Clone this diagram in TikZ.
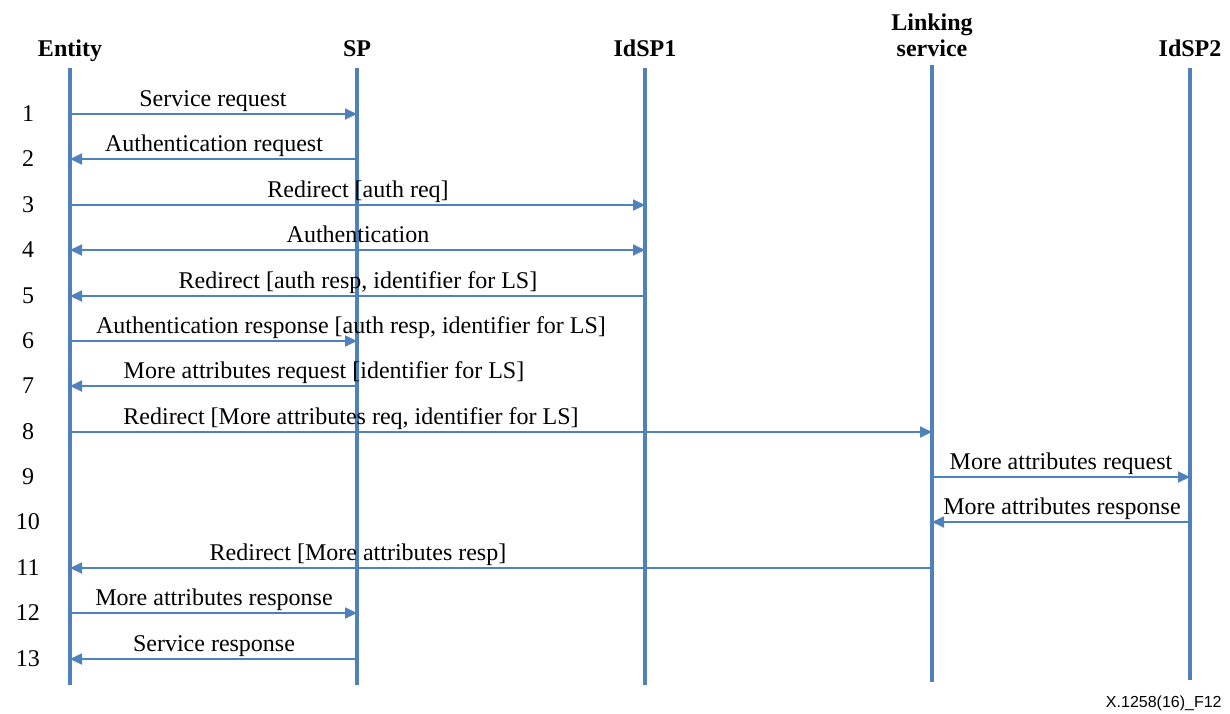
\documentclass[tikz,border=0pt]{standalone}
\usepackage{fontspec}
\setmainfont{Liberation Serif}
\newfontfamily\figsans{Liberation Sans}
\usetikzlibrary{arrows.meta}
\definecolor{seqblue}{RGB}{79,129,189}

\begin{document}
\begin{tikzpicture}[x=0.5pt, y=-0.5pt,
  >={Triangle[length=6pt,width=5.5pt]},
  life/.style={seqblue, line width=2pt},
  msg/.style={seqblue, line width=0.9pt},
  head/.style={font=\fontsize{12}{13}\selectfont\bfseries, anchor=south, inner sep=0pt, text depth=0pt, align=center},
  lbl/.style={font=\fontsize{12}{14}\selectfont, anchor=base, inner sep=0pt},
  num/.style={font=\fontsize{12}{14}\selectfont}]
  \useasboundingbox (0,0) rectangle (1230,713);

  % lifelines
  \foreach \n/\x/\t/\b in {ent/70/68/685, sp/357/68/685, idp1/645/68/685, ls/932/65/682, idp2/1190/68/680} {
    \coordinate (\n) at (\x,\t);
    \coordinate (\n-end) at (\x,\b);
    \draw[life] (\n) -- (\n-end);
  }
  \node[head] (ent-h)  at (70,57)   {Entity};
  \node[head] (sp-h)   at (357,57)  {SP};
  \node[head] (idp1-h) at (645,57)  {IdSP1};
  \node[head] (ls-h)   at (932,57)  {Linking\\service};
  \node[head] (idp2-h) at (1190,57) {IdSP2};

  % row numbers
  \foreach \i/\y in {1/114, 2/159, 3/205, 4/250, 5/296, 6/341, 7/386, 8/432, 9/477, 10/522, 11/568, 12/613, 13/659}
    \node[num] (n\i) at (28,\y) {\i};

  % messages
  \draw[msg, ->] (ent |- n1) -- (sp |- n1);
  \node[lbl] (l1) at (213,106) {Service request};
  \draw[msg, ->] (sp |- n2) -- (ent |- n2);
  \node[lbl] (l2) at (214,151) {Authentication request};
  \draw[msg, ->] (ent |- n3) -- (idp1 |- n3);
  \node[lbl] (l3) at (358,197) {Redirect [auth req]};
  \draw[msg, <->] (ent |- n4) -- (idp1 |- n4);
  \node[lbl] (l4) at (358,242) {Authentication};
  \draw[msg, ->] (idp1 |- n5) -- (ent |- n5);
  \node[lbl] (l5) at (358,288) {Redirect [auth resp, identifier for LS]};
  \draw[msg, ->] (ent |- n6) -- (sp |- n6);
  \node[lbl] (l6) at (351,333) {Authentication response [auth resp, identifier for LS]};
  \draw[msg, ->] (sp |- n7) -- (ent |- n7);
  \node[lbl] (l7) at (324,378) {More attributes request [identifier for LS]};
  \draw[msg, ->] (ent |- n8) -- (ls |- n8);
  \node[lbl] (l8) at (351,424) {Redirect [More attributes req, identifier for LS]};
  \draw[msg, ->] (ls |- n9) -- (idp2 |- n9);
  \node[lbl] (l9) at (1061,469) {More attributes request};
  \draw[msg, ->] (idp2 |- n10) -- (ls |- n10);
  \node[lbl] (l10) at (1062,514) {More attributes response};
  \draw[msg, ->] (ls |- n11) -- (ent |- n11);
  \node[lbl] (l11) at (358,560) {Redirect [More attributes resp]};
  \draw[msg, ->] (ent |- n12) -- (sp |- n12);
  \node[lbl] (l12) at (214,605) {More attributes response};
  \draw[msg, ->] (sp |- n13) -- (ent |- n13);
  \node[lbl] (l13) at (214,651) {Service response};

  \node[font=\figsans\fontsize{8}{10}\selectfont, anchor=base east, inner sep=0pt] (fig) at (1222,707) {X.1258(16)\_F12};
\end{tikzpicture}
\end{document}
